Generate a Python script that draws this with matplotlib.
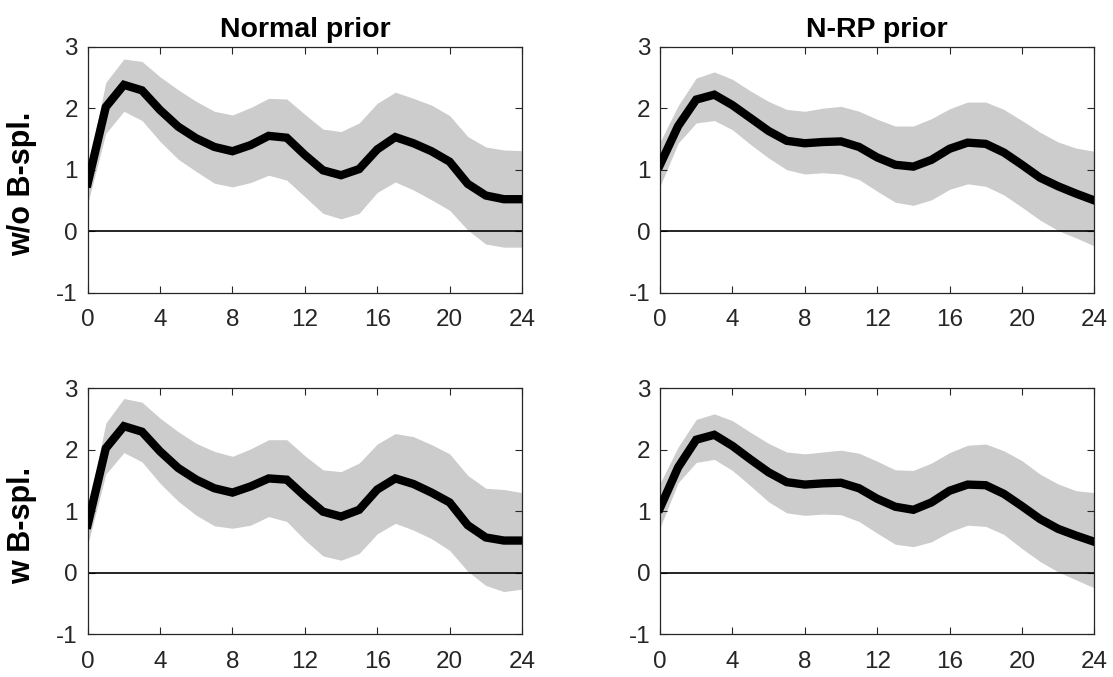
import matplotlib
matplotlib.use("Agg")
import matplotlib.pyplot as plt
import numpy as np

horizons = list(range(25))

# Top-left: Normal prior, w/o B-spl.
tl_mean = [0.78, 2.02, 2.38, 2.29, 1.97, 1.70, 1.51, 1.37, 1.30, 1.40, 1.55, 1.52, 1.24,
           0.99, 0.91, 1.01, 1.33, 1.53, 1.43, 1.30, 1.13, 0.77, 0.58, 0.52, 0.52]
tl_upper = [1.00, 2.42, 2.80, 2.76, 2.51, 2.30, 2.11, 1.95, 1.89, 2.01, 2.16, 2.15, 1.90,
            1.66, 1.62, 1.76, 2.08, 2.26, 2.16, 2.05, 1.88, 1.54, 1.37, 1.32, 1.31]
tl_lower = [0.45, 1.59, 1.95, 1.80, 1.46, 1.17, 0.97, 0.78, 0.72, 0.79, 0.91, 0.83, 0.56,
            0.29, 0.20, 0.29, 0.63, 0.80, 0.67, 0.51, 0.34, 0.02, -0.21, -0.26, -0.26]

# Top-right: N-RP prior, w/o B-spl.
tr_mean = [1.08, 1.71, 2.14, 2.22, 2.05, 1.84, 1.63, 1.47, 1.43, 1.45, 1.46, 1.37, 1.20,
           1.08, 1.05, 1.16, 1.34, 1.44, 1.42, 1.28, 1.08, 0.87, 0.73, 0.61, 0.50]
tr_upper = [1.45, 2.04, 2.49, 2.59, 2.47, 2.28, 2.11, 1.98, 1.95, 2.00, 2.03, 1.95, 1.82,
            1.71, 1.71, 1.83, 1.99, 2.10, 2.10, 1.98, 1.80, 1.61, 1.45, 1.35, 1.30]
tr_lower = [0.73, 1.43, 1.76, 1.80, 1.65, 1.41, 1.19, 1.00, 0.93, 0.95, 0.93, 0.84, 0.65,
            0.47, 0.42, 0.51, 0.68, 0.77, 0.73, 0.59, 0.39, 0.18, 0.01, -0.11, -0.24]

# Bottom-left: Normal prior, w B-spl.
bl_mean = [0.78, 2.02, 2.38, 2.29, 1.97, 1.70, 1.51, 1.37, 1.30, 1.40, 1.53, 1.51, 1.24,
           0.99, 0.91, 1.02, 1.35, 1.53, 1.44, 1.30, 1.14, 0.77, 0.57, 0.52, 0.52]
bl_upper = [1.00, 2.43, 2.83, 2.77, 2.51, 2.29, 2.10, 1.97, 1.89, 2.01, 2.16, 2.16, 1.90,
            1.67, 1.64, 1.78, 2.09, 2.26, 2.21, 2.08, 1.93, 1.58, 1.37, 1.35, 1.30]
bl_lower = [0.45, 1.60, 1.95, 1.80, 1.45, 1.16, 0.93, 0.76, 0.72, 0.77, 0.91, 0.83, 0.53,
            0.27, 0.20, 0.31, 0.63, 0.80, 0.69, 0.55, 0.36, 0.02, -0.21, -0.31, -0.27]

# Bottom-right: N-RP prior, w B-spl.
br_mean = [1.05, 1.71, 2.16, 2.24, 2.06, 1.84, 1.63, 1.47, 1.43, 1.45, 1.46, 1.37, 1.20,
           1.07, 1.02, 1.14, 1.33, 1.43, 1.42, 1.28, 1.08, 0.87, 0.71, 0.60, 0.50]
br_upper = [1.45, 2.04, 2.49, 2.58, 2.47, 2.28, 2.10, 1.96, 1.93, 1.96, 1.99, 1.94, 1.81,
            1.67, 1.66, 1.78, 1.95, 2.07, 2.09, 1.98, 1.82, 1.60, 1.44, 1.33, 1.30]
br_lower = [0.73, 1.46, 1.79, 1.84, 1.66, 1.41, 1.15, 0.97, 0.93, 0.95, 0.94, 0.83, 0.64,
            0.46, 0.42, 0.50, 0.66, 0.77, 0.75, 0.62, 0.39, 0.18, 0.01, -0.12, -0.25]

col_titles = ["Normal prior", "N-RP prior"]
row_labels = ["w/o B-spl.", "w B-spl."]
xticks = [0, 4, 8, 12, 16, 20, 24]
yticks = [-1, 0, 1, 2, 3]

plt.rcParams['font.family'] = ['Liberation Sans', 'DejaVu Sans']
plt.rcParams['axes.unicode_minus'] = False

fig = plt.figure(figsize=(11.13, 6.77), dpi=100)

panels = [
    (tl_mean, tl_lower, tl_upper),
    (tr_mean, tr_lower, tr_upper),
    (bl_mean, bl_lower, bl_upper),
    (br_mean, br_lower, br_upper),
]
lefts = [0.0788, 0.593]
bottoms = [0.5677, 0.0635]
w = 0.3902
h = 0.3633

axcol = '#262626'
for i, (m, lo, up) in enumerate(panels):
    r, c = divmod(i, 2)
    ax = fig.add_axes([lefts[c], bottoms[r], w, h])
    ax.fill_between(horizons, lo, up, color='#cccccc', linewidth=0, zorder=1)
    ax.axhline(0, color='black', linewidth=1.2, zorder=2)
    ax.plot(horizons, m, color='black', linewidth=6, solid_joinstyle='miter', zorder=3)
    ax.set_xlim(0, 24)
    ax.set_ylim(-1, 3)
    ax.set_xticks(xticks)
    ax.set_yticks(yticks)
    ax.tick_params(direction='in', length=5, width=0.8, top=True, right=True,
                   labelsize=17.5, colors=axcol, pad=7)
    ax.tick_params(axis='x', pad=12)
    for s in ax.spines.values():
        s.set_color(axcol)
        s.set_linewidth(0.9)
    if r == 0:
        ax.set_title(col_titles[c], fontsize=20.5, fontweight='bold', pad=7)
    if c == 0:
        ax.set_ylabel(row_labels[r], fontsize=22, fontweight='bold')
        ax.yaxis.set_label_coords(-0.117, 0.443)

fig.savefig('out.png', dpi=100)
